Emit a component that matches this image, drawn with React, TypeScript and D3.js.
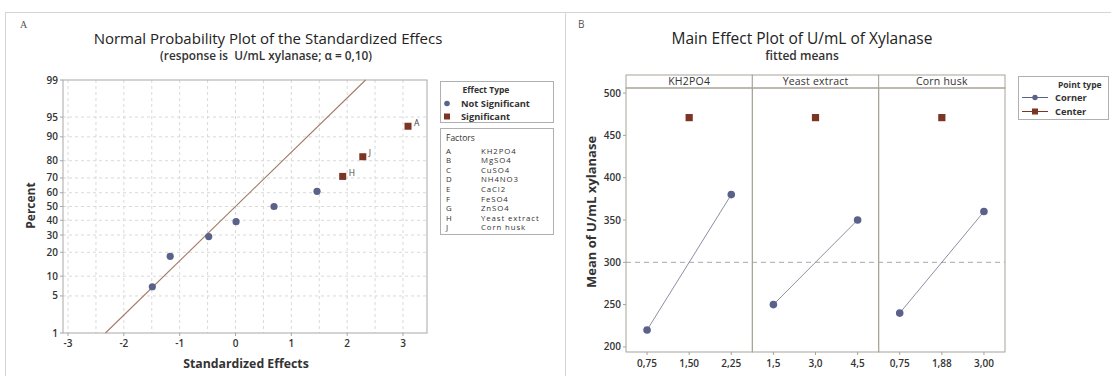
import React from "react";
import * as d3 from "d3";

// ---------- Data: Normal probability plot ----------
const effectValues = [-1.49, -1.17, -0.48, 0.01, 0.69, 1.46, 1.92, 2.28, 3.09];
const effectPercents = [7, 18, 29, 39, 50, 61, 71, 82, 93];
const effectSignificant = [false, false, false, false, false, false, true, true, true];
const effectLabels = ["", "", "", "", "", "", "H", "J", "A"];
const refLineEffects = [-2.33, 2.33];
const refLinePercents = [1, 99];
const percentTicks = [1, 5, 10, 20, 30, 40, 50, 60, 70, 80, 90, 95, 99];
const effectTicks = [-3, -2, -1, 0, 1, 2, 3];
const effectGrid = [-3, -2.5, -2, -1.5, -1, -0.5, 0, 0.5, 1, 1.5, 2, 2.5, 3];
const factorCodes = ["A", "B", "C", "D", "E", "F", "G", "H", "J"];
const factorNames = ["KH2PO4", "MgSO4", "CuSO4", "NH4NO3", "CaCl2", "FeSO4", "ZnSO4", "Yeast extract", "Corn husk"];

// ---------- Data: Main effects plot ----------
const mainFactors = ["KH2PO4", "Yeast extract", "Corn husk"];
const mainLevels = [
  ["0,75", "1,50", "2,25"],
  ["1,5", "3,0", "4,5"],
  ["0,75", "1,88", "3,00"],
];
const cornerLow = [220, 250, 240];
const cornerHigh = [380, 350, 360];
const centerMeans = [471, 471, 471];
const overallMean = 300;
const meanTicks = [200, 250, 300, 350, 400, 450, 500];

const FONT = "'Open Sans', 'Noto Sans', sans-serif";
const TXT = "#333";
const BLUE = "#5a6289";
const BROWN = "#7c3424";

function normInv(p: number): number {
  const a = [-3.969683028665376e1, 2.209460984245205e2, -2.759285104469687e2, 1.38357751867269e2, -3.066479806614716e1, 2.506628277459239];
  const b = [-5.447609879822406e1, 1.615858368580409e2, -1.556989798598866e2, 6.680131188771972e1, -1.328068155288572e1];
  const c = [-7.784894002430293e-3, -3.223964580411365e-1, -2.400758277161838, -2.549671010229528, 4.374664141464968, 2.938163982698783];
  const d = [7.784695709041462e-3, 3.224671290700398e-1, 2.445134137142996, 3.754408661907416];
  const pl = 0.02425;
  if (p < pl) {
    const q = Math.sqrt(-2 * Math.log(p));
    return (((((c[0] * q + c[1]) * q + c[2]) * q + c[3]) * q + c[4]) * q + c[5]) / ((((d[0] * q + d[1]) * q + d[2]) * q + d[3]) * q + 1);
  }
  if (p <= 1 - pl) {
    const q = p - 0.5;
    const r = q * q;
    return ((((((a[0] * r + a[1]) * r + a[2]) * r + a[3]) * r + a[4]) * r + a[5]) * q) / (((((b[0] * r + b[1]) * r + b[2]) * r + b[3]) * r + b[4]) * r + 1);
  }
  const q = Math.sqrt(-2 * Math.log(1 - p));
  return -(((((c[0] * q + c[1]) * q + c[2]) * q + c[3]) * q + c[4]) * q + c[5]) / ((((d[0] * q + d[1]) * q + d[2]) * q + d[3]) * q + 1);
}

function LeftPanel() {
  const L = 63, R = 427, T = 80, B = 333;
  const x = d3.scaleLinear().domain([-3.09, 3.43]).range([L, R]);
  const yz = d3.scaleLinear().domain([normInv(0.01), normInv(0.99)]).range([B, T]);
  const y = (p: number) => yz(normInv(p / 100));
  const line = d3.line<number>().x((_, i) => x(refLineEffects[i])).y((_, i) => y(refLinePercents[i]));
  const cx = (L + R) / 2;
  const rowH = 9.6;
  return (
    <g>
      <text x={20} y={28} fontSize={10} fill="#555" fontFamily="serif">A</text>
      <text x={268} y={44} textAnchor="middle" fontSize={15} fill="#222" fontFamily={FONT}>
        Normal Probability Plot of the Standardized Effecs
      </text>
      <text x={266} y={60} textAnchor="middle" fontSize={11.8} fontWeight="600" fill="#333" fontFamily={FONT}>
        {"(response is\u00A0\u00A0U/mL xylanase; α = 0,10)"}
      </text>
      {/* grid */}
      {effectGrid.map((v) => (
        <line key={"gx" + v} x1={x(v)} x2={x(v)} y1={T} y2={B} stroke="#d9d9d9" strokeDasharray="3,3" />
      ))}
      {percentTicks.slice(1, -1).map((p) => (
        <line key={"gy" + p} x1={L} x2={R} y1={y(p)} y2={y(p)} stroke="#d9d9d9" strokeDasharray="3,3" />
      ))}
      <rect x={L} y={T} width={R - L} height={B - T} fill="none" stroke="#a8a8a8" />
      {/* ticks */}
      {percentTicks.map((p) => (
        <g key={"ty" + p}>
          <line x1={L - 3} x2={L} y1={y(p)} y2={y(p)} stroke="#a8a8a8" />
          <text x={L - 5} y={y(p)} dy="0.35em" textAnchor="end" fontSize={10} fontWeight="600" fill={TXT} fontFamily={FONT}>{p}</text>
        </g>
      ))}
      {effectTicks.map((v) => (
        <g key={"tx" + v}>
          <line x1={x(v)} x2={x(v)} y1={B} y2={B + 3} stroke="#a8a8a8" />
          <text x={x(v)} y={B + 14} textAnchor="middle" fontSize={10} fontWeight="600" fill={TXT} fontFamily={FONT}>{v}</text>
        </g>
      ))}
      <text x={cx + 1} y={368} textAnchor="middle" fontSize={12.3} fontWeight="bold" fill={TXT} fontFamily={FONT}>Standardized Effects</text>
      <text transform={`translate(35,${(T + B) / 2 - 1}) rotate(-90)`} textAnchor="middle" fontSize={12} fontWeight="bold" fill={TXT} fontFamily={FONT}>Percent</text>
      {/* reference line */}
      <path d={line(refLineEffects) || ""} fill="none" stroke="#a37a66" strokeWidth={1.1} />
      {/* points */}
      {effectValues.map((v, i) =>
        effectSignificant[i] ? (
          <g key={"p" + i}>
            <rect x={x(v) - 3.5} y={y(effectPercents[i]) - 3.5} width={7} height={7} fill={BROWN} />
            <text x={x(v) + 6} y={y(effectPercents[i]) - 0.5} fontSize={8.5} fill="#444" fontFamily={FONT}>{effectLabels[i]}</text>
          </g>
        ) : (
          <circle key={"p" + i} cx={x(v)} cy={y(effectPercents[i])} r={3.6} fill={BLUE} />
        )
      )}
      {/* legend: effect type */}
      <rect x={440.5} y={81.5} width={113} height={41} fill="none" stroke="#b0b0b0" />
      <text x={486} y={92.5} textAnchor="middle" fontSize={8.5} fontWeight="bold" fill={TXT} fontFamily={FONT}>Effect Type</text>
      <circle cx={447} cy={103.5} r={2.8} fill={BLUE} />
      <text x={461} y={106.5} fontSize={9.3} fontWeight="bold" fill={TXT} fontFamily={FONT}>Not Significant</text>
      <rect x={444} y={113.5} width={6} height={6} fill={BROWN} />
      <text x={461} y={120} fontSize={9.3} fontWeight="bold" fill={TXT} fontFamily={FONT}>Significant</text>
      {/* legend: factors */}
      <rect x={440.5} y={128.5} width={113} height={106} fill="none" stroke="#b0b0b0" />
      <text x={446} y={141} fontSize={8.5} fill={TXT} fontFamily={FONT}>Factors</text>
      {factorCodes.map((c, i) => (
        <g key={"f" + c}>
          <text x={446} y={153.5 + i * rowH} fontSize={7.8} fill={TXT} fontFamily={FONT}>{c}</text>
          <text x={481} y={153.5 + i * rowH} fontSize={7.8} letterSpacing={0.9} fill={TXT} fontFamily={FONT}>{factorNames[i]}</text>
        </g>
      ))}
    </g>
  );
}

function RightPanel() {
  const L = 626, R = 1005, T = 88, B = 352, ST = 75;
  const w = (R - L) / mainFactors.length;
  const y = d3.scaleLinear().domain([194, 506]).range([B, T]);
  return (
    <g>
      <text x={578} y={28} fontSize={10} fill="#555" fontFamily={FONT}>B</text>
      <text x={802} y={44} textAnchor="middle" fontSize={15.5} fill="#222" fontFamily={FONT}>Main Effect Plot of U/mL of Xylanase</text>
      <text x={802} y={60} textAnchor="middle" fontSize={12} fontWeight="600" fill="#333" fontFamily={FONT}>fitted means</text>
      {meanTicks.map((v) => (
        <g key={"my" + v}>
          <line x1={L - 3} x2={L} y1={y(v)} y2={y(v)} stroke="#a8a39a" />
          <text x={L - 5} y={y(v)} dy="0.35em" textAnchor="end" fontSize={10} fontWeight="600" fill={TXT} fontFamily={FONT}>{v}</text>
        </g>
      ))}
      <text transform={`translate(596,${(T + B) / 2 - 8}) rotate(-90)`} textAnchor="middle" fontSize={13} fontWeight="bold" fill={TXT} fontFamily={FONT}>Mean of U/mL xylanase</text>
      <line x1={L} x2={R} y1={y(overallMean)} y2={y(overallMean)} stroke="#a8a8a8" strokeDasharray="5,4" />
      {mainFactors.map((f, k) => {
        const x0 = L + k * w;
        const x = d3.scalePoint<string>().domain(mainLevels[k]).range([x0, x0 + w]).padding(0.5);
        const lv = mainLevels[k];
        const pts: [number, number][] = [
          [x(lv[0])!, y(cornerLow[k])],
          [x(lv[2])!, y(cornerHigh[k])],
        ];
        return (
          <g key={"panel" + f}>
            <rect x={x0} y={ST} width={w} height={T - ST} fill="#fff" stroke="#a8a39a" />
            <text x={x0 + w / 2} y={(ST + T) / 2} dy="0.36em" textAnchor="middle" fontSize={10.5} letterSpacing={0.2} fill={TXT} fontFamily={FONT}>{f}</text>
            <rect x={x0} y={T} width={w} height={B - T} fill="none" stroke="#a8a39a" />
            {lv.map((l) => (
              <g key={"mx" + k + l}>
                <line x1={x(l)} x2={x(l)} y1={B} y2={B + 3} stroke="#a8a39a" />
                <text x={x(l)} y={B + 15} textAnchor="middle" fontSize={10} fontWeight="600" fill={TXT} fontFamily={FONT}>{l}</text>
              </g>
            ))}
            <path d={d3.line()(pts) || ""} stroke="#8a90a4" strokeWidth={1} fill="none" />
            {pts.map((p, i) => (
              <circle key={i} cx={p[0]} cy={p[1]} r={3.8} fill={BLUE} />
            ))}
            <rect x={x(lv[1])! - 3.6} y={y(centerMeans[k]) - 3.6} width={7.2} height={7.2} fill={BROWN} />
          </g>
        );
      })}
      {/* legend */}
      <rect x={1018.5} y={76.5} width={90} height={43} fill="none" stroke="#b0b0b0" />
      <text x={1058} y={88} fontSize={8.5} fontWeight="bold" fill={TXT} fontFamily={FONT}>Point type</text>
      <line x1={1022} x2={1048} y1={97.5} y2={97.5} stroke={BLUE} />
      <circle cx={1035} cy={97.5} r={2.7} fill={BLUE} />
      <text x={1055} y={100.5} fontSize={9.3} fontWeight="bold" fill={TXT} fontFamily={FONT}>Corner</text>
      <line x1={1022} x2={1048} y1={111.5} y2={111.5} stroke={BROWN} />
      <rect x={1032} y={108.5} width={6} height={6} fill={BROWN} />
      <text x={1055} y={114.5} fontSize={9.3} fontWeight="bold" fill={TXT} fontFamily={FONT}>Center</text>
    </g>
  );
}

export default function App() {
  return (
    <svg width={1111} height={376} style={{ position: "absolute", left: 0, top: 0, background: "#fff" }}>
      <rect x={0} y={0} width={1111} height={376} fill="#fff" />
      <line x1={5} x2={1111} y1={12.5} y2={12.5} stroke="#d4d4d4" />
      <line x1={5.5} x2={5.5} y1={12} y2={376} stroke="#d4d4d4" />
      <line x1={565.5} x2={565.5} y1={12} y2={376} stroke="#d4d4d4" />
      <LeftPanel />
      <RightPanel />
    </svg>
  );
}
